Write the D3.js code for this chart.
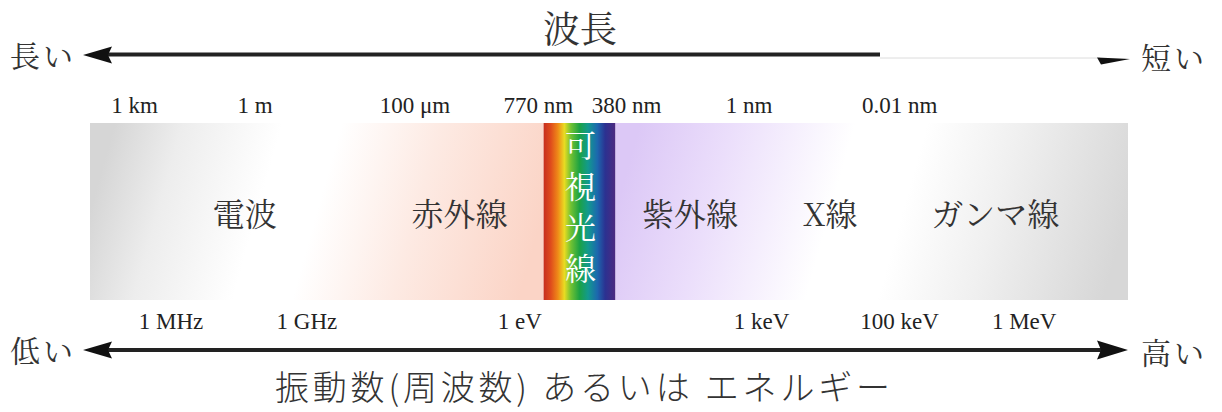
<!DOCTYPE html>
<html>
<head>
<meta charset="utf-8">
<script src="https://cdn.jsdelivr.net/npm/d3@7"></script>
<style>
  body { margin: 0; background: #fff; }
  .jp { font-family: "Noto Serif CJK JP", "Noto Sans CJK JP", sans-serif; fill: #333; }
  .jp-sans { font-family: "Noto Sans CJK JP", sans-serif; fill: #333; font-weight: 300; }
  .tick-label { font-family: "Liberation Serif", "DejaVu Serif", serif; font-size: 23px; fill: #222; }
</style>
</head>
<body>
<div id="chart"></div>
<script>
// Spectrum position runs 0 (long wavelength, left) .. 1 (short wavelength, right)
const wavelengthLabels = ["1 km", "1 m", "100 μm", "770 nm", "380 nm", "1 nm", "0.01 nm"];
const wavelengthPos = [0.043, 0.159, 0.313, 0.432, 0.517, 0.635, 0.78];

const energyLabels = ["1 MHz", "1 GHz", "1 eV", "1 keV", "100 keV", "1 MeV"];
const energyPos = [0.078, 0.209, 0.414, 0.647, 0.78, 0.9];

const regionNames = ["電波", "赤外線", "紫外線", "X線", "ガンマ線"];
const regionPos = [0.149, 0.356, 0.578, 0.713, 0.872];

const visibleRange = [0.437, 0.506]; // 770 nm .. 380 nm
const visibleName = ["可", "視", "光", "線"];

// background colour stops along the spectrum, either side of the visible strip
const leftStops = [[0, "#d6d6d6"], [0.15, "#ededed"], [0.37, "#ffffff"], [0.5, "#ffffff"], [0.72, "#fdeae3"], [1, "#fbd4c6"]];
const rightStops = [[0, "#dcc8f6"], [0.18, "#ebdefb"], [0.42, "#ffffff"], [0.56, "#ffffff"], [0.74, "#f0f0f0"], [1, "#d7d7d7"]];
const rainbowStops = [[0, "#c62e1e"], [0.1, "#df4c1c"], [0.2, "#ef8a18"], [0.29, "#e9dc22"], [0.38, "#72c232"], [0.5, "#1ca243"], [0.62, "#129a8e"], [0.75, "#1c68ae"], [0.86, "#2b3191"], [1, "#4c2a80"]];

const W = 1222, H = 412;
const band = { left: 90, right: 1128, top: 123, bottom: 300 };

const svg = d3
  .select("#chart")
  .append("svg")
  .attr("width", W)
  .attr("height", H);

const x = d3.scaleLinear().domain([0, 1]).range([band.left, band.right]);

const defs = svg.append("defs");

// tilted linear gradient: iso lines lean so the top sits ~50px right of the bottom
function tiltedGradient(id, x0, x1, stops) {
  const k = 50 / (band.bottom - band.top);
  const s = x1 - x0;
  const midY = (band.top + band.bottom) / 2;
  const g = defs
    .append("linearGradient")
    .attr("id", id)
    .attr("gradientUnits", "userSpaceOnUse")
    .attr("x1", x0)
    .attr("y1", midY)
    .attr("x2", x0 + s / (1 + k * k))
    .attr("y2", midY + (s * k) / (1 + k * k));
  g.selectAll("stop")
    .data(stops)
    .enter()
    .append("stop")
    .attr("offset", (d) => d[0])
    .attr("stop-color", (d) => d[1]);
}

tiltedGradient("grad-left", x(0), x(visibleRange[0]), leftStops);
tiltedGradient("grad-right", x(visibleRange[1]), x(1), rightStops);

const rainbow = defs.append("linearGradient").attr("id", "grad-rainbow");
rainbow
  .selectAll("stop")
  .data(rainbowStops)
  .enter()
  .append("stop")
  .attr("offset", (d) => d[0])
  .attr("stop-color", (d) => d[1]);

// Band pieces
svg
  .append("rect")
  .attr("x", x(0))
  .attr("y", band.top)
  .attr("width", x(visibleRange[0]) - x(0))
  .attr("height", band.bottom - band.top)
  .attr("fill", "url(#grad-left)");

svg
  .append("rect")
  .attr("x", x(visibleRange[1]))
  .attr("y", band.top)
  .attr("width", x(1) - x(visibleRange[1]))
  .attr("height", band.bottom - band.top)
  .attr("fill", "url(#grad-right)");

svg
  .append("rect")
  .attr("x", x(visibleRange[0]))
  .attr("y", band.top)
  .attr("width", x(visibleRange[1]) - x(visibleRange[0]))
  .attr("height", band.bottom - band.top)
  .attr("fill", "url(#grad-rainbow)");

// Visible light label, stacked vertically
const visX = (x(visibleRange[0]) + x(visibleRange[1])) / 2 + 1;
svg
  .append("g")
  .selectAll("text")
  .data(visibleName)
  .enter()
  .append("text")
  .attr("class", "jp")
  .attr("x", visX)
  .attr("y", (d, i) => 157 + i * 41)
  .attr("text-anchor", "middle")
  .attr("font-size", 31)
  .style("fill", "#fff")
  .text((d) => d);

// Region names
svg
  .append("g")
  .selectAll("text")
  .data(regionNames)
  .enter()
  .append("text")
  .attr("class", "jp")
  .attr("x", (d, i) => x(regionPos[i]))
  .attr("y", 226)
  .attr("text-anchor", "middle")
  .attr("font-size", 32)
  .text((d) => d);

// Wavelength labels above the band
svg
  .append("g")
  .selectAll("text")
  .data(wavelengthLabels)
  .enter()
  .append("text")
  .attr("class", "tick-label")
  .attr("x", (d, i) => x(wavelengthPos[i]))
  .attr("y", 113)
  .attr("text-anchor", "middle")
  .text((d) => d);

// Frequency / energy labels below the band
svg
  .append("g")
  .selectAll("text")
  .data(energyLabels)
  .enter()
  .append("text")
  .attr("class", "tick-label")
  .attr("x", (d, i) => x(energyPos[i]))
  .attr("y", 329)
  .attr("text-anchor", "middle")
  .text((d) => d);

// Arrow heads
function arrowHead(tipX, y, dir, len, half) {
  const back = tipX - dir * len;
  const notch = back + dir * 4;
  return `M${tipX},${y} L${back},${y - half} L${notch},${y} L${back},${y + half} Z`;
}

// Top arrow (wavelength); the right part of the shaft is faint in the original
svg
  .append("line")
  .attr("x1", 105)
  .attr("x2", 880)
  .attr("y1", 54.5)
  .attr("y2", 54.5)
  .attr("stroke", "#222")
  .attr("stroke-width", 4);

svg
  .append("line")
  .attr("x1", 880)
  .attr("x2", 1100)
  .attr("y1", 58)
  .attr("y2", 58)
  .attr("stroke", "#dcdcdc")
  .attr("stroke-width", 1);

svg.append("path").attr("d", arrowHead(83, 55, -1, 29, 8.5)).attr("fill", "#111");
svg
  .append("path")
  .attr("d", "M1097,57.5 L1130,59 L1101,64.5 Z")
  .attr("fill", "#111");

// Bottom arrow (frequency / energy)
svg
  .append("line")
  .attr("x1", 105)
  .attr("x2", 1105)
  .attr("y1", 350)
  .attr("y2", 350)
  .attr("stroke", "#222")
  .attr("stroke-width", 4);

svg.append("path").attr("d", arrowHead(83, 350, -1, 29, 8.5)).attr("fill", "#111");
svg.append("path").attr("d", arrowHead(1128, 350, 1, 31, 9.5)).attr("fill", "#111");

// Arrow end words and titles
const words = [
  { t: "長い", x: 10, y: 67 },
  { t: "短い", x: 1141, y: 69 },
  { t: "低い", x: 10, y: 362 },
  { t: "高い", x: 1141, y: 364 },
];
svg
  .append("g")
  .selectAll("text")
  .data(words)
  .enter()
  .append("text")
  .attr("class", "jp")
  .attr("x", (d) => d.x)
  .attr("y", (d) => d.y)
  .attr("font-size", 30)
  .attr("textLength", 63)
  .attr("lengthAdjust", "spacing")
  .text((d) => d.t);

svg
  .append("text")
  .attr("class", "jp")
  .attr("x", 580)
  .attr("y", 43)
  .attr("text-anchor", "middle")
  .attr("font-size", 37)
  .text("波長");

svg
  .append("text")
  .attr("class", "jp-sans")
  .attr("x", 275)
  .attr("y", 400)
  .attr("font-size", 34)
  .attr("textLength", 615)
  .attr("lengthAdjust", "spacing")
  .text("振動数(周波数) あるいは エネルギー");
</script>
</body>
</html>
